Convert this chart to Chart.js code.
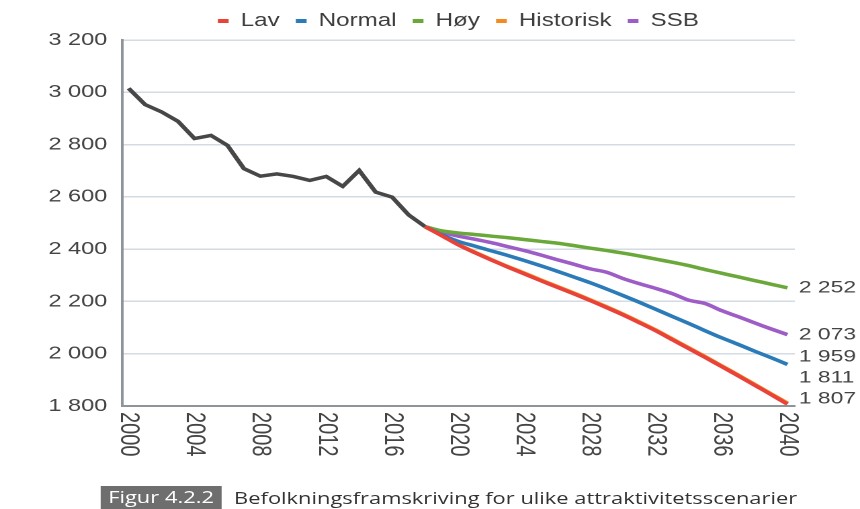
<!DOCTYPE html>
<html><head><meta charset="utf-8">
<script src="https://cdn.jsdelivr.net/npm/chart.js@4"></script>
<style>
html,body{margin:0;padding:0;background:#fff;width:860px;height:509px;overflow:hidden}
#wrap{position:absolute;left:0;top:0;width:640px;height:509px;transform:scaleX(1.34375);transform-origin:0 0}
#cw{position:absolute;left:0;top:0;width:640px;height:470px}
#cap{position:absolute;left:74.5px;top:486px;height:23px;font-family:"Open Sans",sans-serif;font-size:16.3px;color:#333;white-space:nowrap;display:flex;align-items:center}
#cap .tag{background:#6e6e6e;color:#fff;height:23px;line-height:23px;padding:0 6px;margin-right:9px}
</style></head>
<body>
<div id="wrap">
  <div id="cw"><canvas id="c"></canvas></div>
  <div id="cap"><span class="tag">Figur 4.2.2</span><span>Befolkningsframskriving for ulike attraktivitetsscenarier</span></div>
</div>
<script>
// ---- data ----
const histYears = [2000,2001,2002,2003,2004,2005,2006,2007,2008,2009,2010,2011,2012,2013,2014,2015,2016,2017,2018];
const histValues = [3015,2953,2925,2889,2823,2835,2797,2708,2679,2688,2678,2663,2678,2640,2701,2618,2599,2531,2486];
const projYears = [2018,2019,2020,2021,2022,2023,2024,2025,2026,2027,2028,2029,2030,2031,2032,2033,2034,2035,2036,2037,2038,2039,2040];
const lav       = [2486,2452,2417,2387,2359,2332,2306,2280,2255,2230,2204,2177,2149,2119,2088,2054,2020,1986,1951,1916,1880,1844,1807];
const normal    = [2486,2455,2430,2412,2394,2376,2357,2337,2316,2294,2272,2248,2223,2197,2170,2143,2116,2088,2061,2036,2010,1985,1959];
const hoy       = [2486,2470,2462,2456,2450,2444,2437,2430,2423,2414,2404,2395,2385,2374,2362,2350,2337,2322,2308,2294,2280,2266,2252];
const historisk = [2486,2453,2419,2389,2361,2334,2309,2283,2258,2233,2207,2180,2152,2122,2091,2057,2023,1989,1954,1919,1883,1847,1811];
const ssb       = [2486,2465,2450,2438,2425,2410,2395,2378,2360,2343,2325,2312,2288,2268,2250,2230,2205,2192,2165,2142,2118,2095,2073];
const seriesNames = ['Lav','Normal','Høy','Historisk','SSB'];
const xTickYears = [2000,2004,2008,2012,2016,2020,2024,2028,2032,2036,2040];
const yTickValues = [1800,2000,2200,2400,2600,2800,3000,3200];

const fmt = v => String(v).replace(/\B(?=(\d{3})+(?!\d))/g, ' ');
const pts = (xs, ys) => xs.map((x,i)=>({x, y: ys[i]}));
const colors = ['#e8423a','#2b7bb9','#6aa83a','#f58b1f','#9d5cc6'];
const seriesData = [lav, normal, hoy, historisk, ssb];

const datasets = seriesData.map((vals,i)=>({
  label: seriesNames[i], data: pts(projYears, vals),
  borderColor: colors[i], backgroundColor: colors[i],
  borderWidth: 3.5, pointRadius: 0, tension: 0.3, endLabel: true
}));
datasets.push({label:'', data: pts(histYears, histValues), borderColor:'#474747', backgroundColor:'#474747', borderWidth:3.5, pointRadius:0, tension:0});

const extras = {
  id: 'extras',
  afterDatasetsDraw(chart){
    const {ctx, chartArea, scales:{x, y}} = chart;
    ctx.save();
    ctx.fillStyle = '#444';
    ctx.font = '20px "Liberation Sans", Arial, sans-serif';
    xTickYears.forEach(v=>{
      const px = x.getPixelForValue(v);
      ctx.save();
      ctx.translate(px, chartArea.bottom + 6);
      ctx.rotate(Math.PI/2);
      ctx.textAlign = 'left'; ctx.textBaseline = 'middle';
      ctx.fillText(String(v), 0, 0);
      ctx.restore();
    });
    ctx.font = '17px "Liberation Sans", Arial, sans-serif';
    const items = chart.data.datasets.filter(d=>d.endLabel).map(d=>{
      const v = d.data[d.data.length-1].y;
      return {v, py: y.getPixelForValue(v)};
    });
    items.sort((a,b)=>b.py-a.py);
    let limit = chartArea.bottom - 7;
    items.forEach(it=>{ it.ly = Math.min(it.py, limit); limit = it.ly - 21; });
    ctx.textAlign = 'left'; ctx.textBaseline = 'middle';
    items.forEach(it=> ctx.fillText(fmt(it.v), chartArea.right + 3, it.ly));
    ctx.restore();
  }
};

new Chart(document.getElementById('c'), {
  type: 'line',
  data: { datasets },
  plugins: [extras],
  options: {
    responsive: true, maintainAspectRatio: false, animation: false,
    devicePixelRatio: 2,
    layout: { padding: { left: 35, right: 48.5, top: 0, bottom: 56 } },
    plugins: {
      tooltip: { enabled: false },
      legend: {
        position: 'top', fullSize: false,
        labels: {
          padding: 12, boxWidth: 8, boxHeight: 4, color: '#3d3d3d',
          font: { family: '"Liberation Sans", Arial, sans-serif', size: 18 },
          filter: item => item.text !== '',
          generateLabels: chart => Chart.defaults.plugins.legend.labels.generateLabels(chart).map(it=>({...it, lineWidth: 0, fillStyle: it.strokeStyle}))
        }
      }
    },
    scales: {
      x: {
        type: 'linear', min: 1999.6, max: 2040.45,
        grid: { display: false },
        border: { display: true, color: '#8d949a', width: 2 },
        ticks: { display: false }
      },
      y: {
        min: 1800, max: 3200,
        afterBuildTicks: ax => { ax.ticks = yTickValues.map(v=>({value: v})); },
        afterFit: ax => { ax.width = 55.8; },
        grid: { color: '#d3dbe3', lineWidth: 1.5, drawTicks: false },
        border: { display: true, color: '#8d949a', width: 2 },
        ticks: { padding: 11, color: '#444', font: { family: '"Liberation Sans", Arial, sans-serif', size: 17.5 }, callback: v => fmt(v) }
      }
    }
  }
});
</script>
</body></html>
